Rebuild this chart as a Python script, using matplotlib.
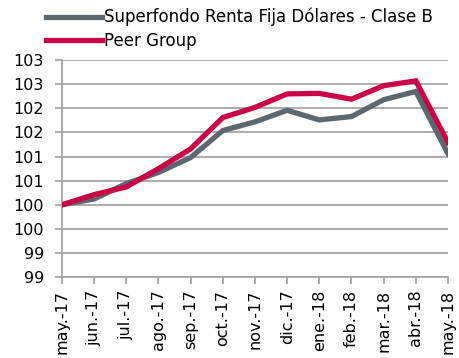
import numpy as np
import matplotlib.pyplot as plt

# Monthly index values (base 100)
months = ['may.-17', 'jun.-17', 'jul.-17', 'ago.-17', 'sep.-17', 'oct.-17', 'nov.-17',
          'dic.-17', 'ene.-18', 'feb.-18', 'mar.-18', 'abr.-18', 'may.-18']
superfondo = [100.0, 100.12, 100.44, 100.67, 100.98, 101.54, 101.72,
              101.96, 101.76, 101.83, 102.18, 102.35, 101.06]
peer_group = [100.0, 100.21, 100.37, 100.75, 101.16, 101.81, 102.02,
              102.30, 102.31, 102.19, 102.47, 102.57, 101.29]

series_names = ['Superfondo Renta Fija Dólares - Clase B', 'Peer Group']
y_ticks = [98.5, 99.0, 99.5, 100.0, 100.5, 101.0, 101.5, 102.0, 102.5, 103.0]
y_tick_labels = ['99', '99', '100', '100', '101', '101', '102', '102', '103', '103']

GRAY = '#5c6870'
RED = '#cc0044'
GRID = '#a6a6a6'

fig = plt.figure(figsize=(4.59, 3.58), dpi=100)
ax = fig.add_axes([0.135, 0.226, 0.841, 0.606])

x = np.arange(len(months))
ax.plot(x, superfondo, color=GRAY, lw=3.8, solid_joinstyle='miter', label=series_names[0], zorder=3)
ax.plot(x, peer_group, color=RED, lw=3.8, solid_joinstyle='miter', label=series_names[1], zorder=4)

ax.set_xlim(0, len(months) - 1)
ax.set_ylim(y_ticks[0], y_ticks[-1])
ax.set_yticks(y_ticks)
ax.set_yticklabels(y_tick_labels, fontsize=11.5)
ax.set_xticks(x)
ax.set_xticklabels(months, rotation=90, fontsize=11.5)

ax.grid(axis='y', color=GRID, lw=1.3)
ax.set_axisbelow(True)
for side in ['top', 'right']:
    ax.spines[side].set_visible(False)
for side in ['left', 'bottom']:
    ax.spines[side].set_color(GRID)
    ax.spines[side].set_linewidth(1.3)
ax.tick_params(axis='both', color=GRID, width=1.3, length=5)
ax.tick_params(axis='y', pad=8)
ax.tick_params(axis='x', pad=4)

fig.legend(loc='upper left', bbox_to_anchor=(46 / 459, 1 - 8 / 358), frameon=False, fontsize=12,
           handlelength=3.35, handletextpad=0.15, labelspacing=0.3, borderpad=0, borderaxespad=0)

fig.savefig('out.png', dpi=100)
